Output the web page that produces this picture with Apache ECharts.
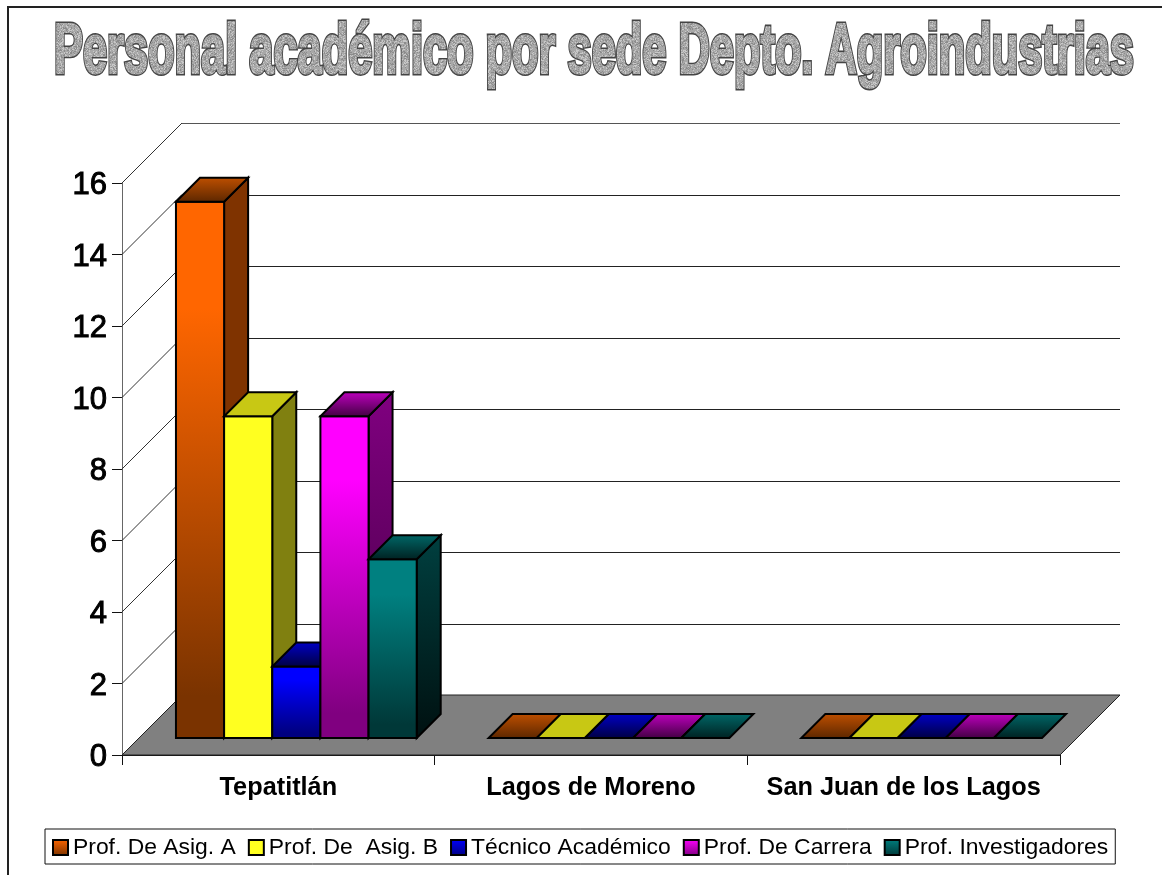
<!DOCTYPE html>
<html><head><meta charset="utf-8">
<style>html,body{margin:0;padding:0;background:#fff}#c{width:1162px;height:875px}</style>
<script src="https://cdn.jsdelivr.net/npm/echarts@6/dist/echarts.min.js"></script>
</head><body><div id="c"></div>
<script>
var titleText = 'Personal académico por sede Depto. Agroindustrias';
var categories = ['Tepatitlán', 'Lagos de Moreno', 'San Juan de los Lagos'];
var seriesNames = ['Prof. De Asig. A', 'Prof. De  Asig. B', 'Técnico Académico', 'Prof. De Carrera', 'Prof. Investigadores'];
var profAsigA = [15, 0, 0];
var profAsigB = [9, 0, 0];
var tecnico = [2, 0, 0];
var profCarrera = [9, 0, 0];
var profInvest = [5, 0, 0];
var valueTicks = [0, 2, 4, 6, 8, 10, 12, 14, 16];
var seriesValues = [profAsigA, profAsigB, tecnico, profCarrera, profInvest];

var faceColors = [
  {front:['#ff6600','#ff6600','#7a3300'], side:['#7f3300','#7f3300'], top:['#c05000','#5a2600'], swatch:['#ff6600','#7a3300']},
  {front:['#ffff20','#ffff20'], side:['#808010','#808010'], top:['#c8c814','#c8c814'], swatch:['#ffff20','#ffff20']},
  {front:['#0000ff','#0000ff','#000080'], side:['#000080','#000040'], top:['#0000c8','#000040'], swatch:['#0000ff','#000080']},
  {front:['#ff00ff','#ff00ff','#800080'], side:['#800080','#400040'], top:['#c000c0','#400040'], swatch:['#ff00ff','#800080']},
  {front:['#008080','#008080','#003838'], side:['#004040','#001010'], top:['#006868','#002020'], swatch:['#008080','#003838']}
];
var DEPTH_WALL = 60, DEPTH_BAR = 24, BAR_SHIFT = 17, BAR_RATIO = 0.77;

function grad(stops){
  var n = stops.length - 1;
  return new echarts.graphic.LinearGradient(0,0,0,1, stops.map(function(c,i){
    return {offset: n===2 ? [0,0.2,0.92][i] : i/n, color:c};
  }));
}

function renderBackdrop(params, api){
  var cs = params.coordSys, v = api.value(0);
  var p = api.coord([0, v]);
  var y = p[1], x0 = cs.x, x1 = cs.x + cs.width, d = DEPTH_WALL;
  var yb = Math.round(y - d) + 0.5;
  var kids = [];
  if (v === 0) {
    kids.push({type:'polygon', shape:{points:[[x0,y],[x1,y],[x1+d,y-d],[x0+d,y-d]]},
      style:{fill:'#808080', stroke:'#222', lineWidth:1}});
  } else {
    kids.push({type:'line', shape:{x1:x0+d,y1:yb,x2:x1+d,y2:yb}, style:{stroke:v===16?'#555':'#222', lineWidth:1}});
    kids.push({type:'line', shape:{x1:x0,y1:y,x2:x0+d,y2:y-d}, style:{stroke:'#333', lineWidth:1}});
  }
  return {type:'group', children:kids};
}

function makeRender(si){
  return function(params, api){
    var base = api.coord([api.value(0), 0]);
    var top = api.coord([api.value(0), api.value(1)]);
    var band = api.size([1,0])[0];
    var bw = band * BAR_RATIO / seriesNames.length;
    var l = base[0] - bw * seriesNames.length / 2 + si * bw + BAR_SHIFT + 1;
    var r = l + bw;
    var b = base[1] - BAR_SHIFT, t = top[1] - BAR_SHIFT, d = DEPTH_BAR;
    var col = faceColors[si];
    var line = {stroke:'#000', lineWidth:2, lineJoin:'miter'};
    var kids = [];
    if (b - t > 0.5) {
      kids.push({type:'polygon', shape:{points:[[r,t],[r+d,t-d],[r+d,b-d],[r,b]]},
        style:Object.assign({fill:grad(col.side)}, line)});
      kids.push({type:'rect', shape:{x:l,y:t,width:bw,height:b-t},
        style:Object.assign({fill:grad(col.front)}, line)});
    }
    kids.push({type:'polygon', shape:{points:[[l,t],[r,t],[r+d,t-d],[l+d,t-d]]},
      style:Object.assign({fill:grad(col.top)}, line)});
    return {type:'group', children:kids};
  };
}

var series = [{
  type:'custom', name:'_backdrop', silent:true, z:1,
  data: valueTicks.map(function(v){return [v];}),
  encode:{y:0}, renderItem:renderBackdrop, animation:false
}];
seriesNames.forEach(function(n,si){
  series.push({
    type:'custom', name:n, z:2+si, animation:false,
    itemStyle:{color:grad(faceColors[si].swatch), borderColor:'#000', borderWidth:2},
    data: seriesValues[si].map(function(v,i){return [i,v];}),
    encode:{x:0,y:1}, renderItem:makeRender(si)
  });
});

var titleFont = "bold 71px 'Liberation Sans'";
var TITLE_X = 54, TITLE_BASE = 73, TITLE_TOP = 18, TITLE_STROKE = 5, TITLE_INNER = 2.2;
var mc = document.createElement('canvas').getContext('2d');
mc.font = titleFont;
var titleScale = 1080 / mc.measureText(titleText).width;

// speckle texture covering the letters, leaving the dark edge of the real title text visible
function speckleOverlay(){
  var w = 1162, h = 110;
  var c = document.createElement('canvas'); c.width = w; c.height = h;
  var x = c.getContext('2d'), s = 12345;
  x.fillStyle = '#a8a8a8'; x.fillRect(0,0,w,h);
  for (var i=0;i<w;i++) for (var j=0;j<h;j++){
    s = (s*1103515245+12345) & 0x7fffffff;
    var k = (s>>16)%5;
    if (k===0){x.fillStyle='#8c8c8c';x.fillRect(i,j,1,1);}
    else if (k===1){x.fillStyle='#c8c8c8';x.fillRect(i,j,1,1);}
  }
  var m = document.createElement('canvas'); m.width = w; m.height = h;
  var y = m.getContext('2d');
  y.setTransform(titleScale,0,0,1,TITLE_X,TITLE_BASE);
  y.font = titleFont; y.textBaseline='alphabetic'; y.fillStyle='#000'; y.strokeStyle='#000';
  y.lineWidth = TITLE_INNER; y.lineJoin='round';
  y.fillText(titleText,0,0); y.strokeText(titleText,0,0);
  x.globalCompositeOperation='destination-in';
  x.drawImage(m,0,0);
  return c;
}

var chart = echarts.init(document.getElementById('c'), null, {renderer:'canvas'});
chart.setOption({
  animation:false,
  backgroundColor:'#fff',
  grid:{left:122, top:183, width:938, height:572, containLabel:false},
  xAxis:{type:'category', data:categories, boundaryGap:true,
    axisLine:{show:true, lineStyle:{color:'#111', width:1}},
    axisTick:{show:true, length:10, lineStyle:{color:'#111', width:1}},
    axisLabel:{margin:21, interval:0, color:'#000', fontFamily:'Liberation Sans', fontSize:25.3, fontWeight:'bold'}},
  yAxis:{type:'value', min:0, max:16, interval:2,
    axisLine:{show:true, lineStyle:{color:'#666', width:1}},
    axisTick:{show:true, length:10, lineStyle:{color:'#111', width:1}},
    splitLine:{show:false},
    axisLabel:{margin:15, formatter:'{n|{value}}',
      rich:{n:{color:'#000', fontFamily:'Liberation Sans', fontSize:31, textBorderColor:'#000', textBorderWidth:1, padding:[5,0,0,0]}}}},
  legend:{left:45, top:829, orient:'horizontal', data:seriesNames, icon:'rect',
    itemWidth:15, itemHeight:15, itemGap:12, padding:[7,7,5,7],
    backgroundColor:'#fff', borderColor:'#111', borderWidth:1, borderRadius:0,
    selectedMode:false,
    textStyle:{color:'#000', fontFamily:'Liberation Sans', fontSize:22.9, padding:[4,0,0,0]}},
  tooltip:{show:false},
  graphic:[
    {type:'polyline', silent:true, z:0, shape:{points:[[8,875],[8,7],[1162,7]]}, style:{stroke:'#222', lineWidth:2, fill:null}},
    {type:'text', silent:true, z:20, x:TITLE_X, y:TITLE_TOP, scaleX:titleScale, scaleY:1,
      style:{text:titleText, font:titleFont, fill:'#a6a6a6', stroke:'#444', lineWidth:TITLE_STROKE}},
    {type:'image', silent:true, z:21, x:0, y:0, style:{image:speckleOverlay()}}
  ],
  series:series
});
</script></body></html>
